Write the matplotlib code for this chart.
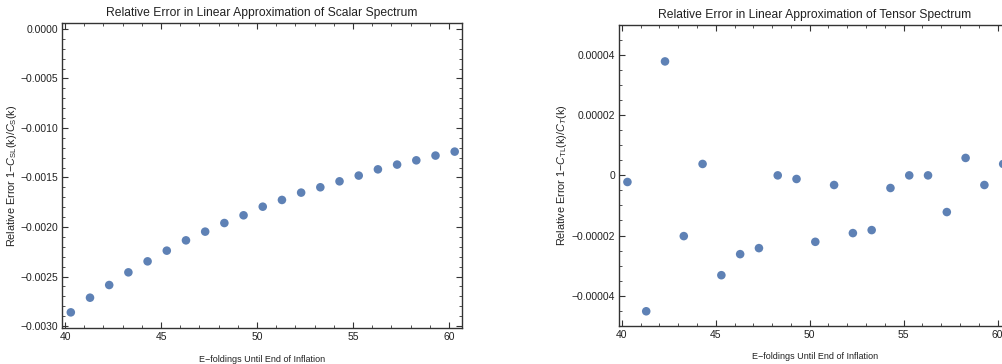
import matplotlib
matplotlib.use("Agg")
from matplotlib import pyplot as plt
from matplotlib.ticker import MultipleLocator, FuncFormatter

plt.rcParams['font.family'] = ['Liberation Sans', 'DejaVu Sans']
plt.rcParams['mathtext.fontset'] = 'custom'
plt.rcParams['mathtext.it'] = 'Liberation Sans:italic'
plt.rcParams['mathtext.rm'] = 'Liberation Sans'

# e-folds until end of inflation
efolds = [40.3, 41.3, 42.3, 43.3, 44.3, 45.3, 46.3, 47.3, 48.3, 49.3, 50.3,
          51.3, 52.3, 53.3, 54.3, 55.3, 56.3, 57.3, 58.3, 59.3, 60.3]

scalar_err = [-0.002862, -0.002714, -0.002586, -0.002458, -0.002347, -0.002239,
              -0.002135, -0.002047, -0.001960, -0.001882, -0.001795, -0.001727,
              -0.001653, -0.001599, -0.001539, -0.001481, -0.001418, -0.001370,
              -0.001327, -0.001279, -0.001239]

tensor_err = [-2.2e-6, -4.52e-5, 3.79e-5, -2.02e-5, 3.8e-6, -3.32e-5,
              -2.62e-5, -2.42e-5, 0.0, -1.2e-6, -2.21e-5, -3.2e-6,
              -1.92e-5, -1.82e-5, -4.2e-6, 0.0, 0.0, -1.22e-5,
              5.8e-6, -3.2e-6, 3.8e-6]

dot_color = '#5E81B5'
frame_color = '#333333'
text_color = '#222222'

fig = plt.figure(figsize=(10.03, 3.64), dpi=100)
ax1 = fig.add_axes([0.0618, 0.0989, 0.3988, 0.838])
ax2 = fig.add_axes([0.6175, 0.1052, 0.3898, 0.826])


def fmt_signed(ndig):
    def f(v, pos):
        if abs(v) < 1e-12:
            return '0' if ndig is None else '0.' + '0' * ndig
        s = ('%.' + str(ndig if ndig else 5) + 'f') % abs(v)
        return ('\u2212' if v < 0 else '') + s
    return FuncFormatter(f)


def style(ax):
    for sp in ax.spines.values():
        sp.set_color(frame_color)
        sp.set_linewidth(1.0)
    ax.tick_params(which='both', direction='in', top=True, right=True,
                   colors=frame_color, labelcolor=text_color, labelsize=7.5, pad=3)
    ax.tick_params(which='major', length=4, width=0.8)
    ax.tick_params(which='minor', length=2, width=0.6)
    ax.xaxis.set_major_locator(MultipleLocator(5))
    ax.xaxis.set_minor_locator(MultipleLocator(1))


# scalar spectrum
ax1.scatter(efolds, scalar_err, s=38, color=dot_color, edgecolors='none', zorder=3)
ax1.set_xlim(39.84, 60.68)
ax1.set_ylim(-0.00302, 0.00006)
style(ax1)
ax1.yaxis.set_major_locator(MultipleLocator(0.0005))
ax1.yaxis.set_minor_locator(MultipleLocator(0.0001))
ax1.yaxis.set_major_formatter(fmt_signed(4))
ax1.set_title('Relative Error in Linear Approximation of Scalar Spectrum',
              fontsize=8.7, color=text_color, pad=5)
ax1.set_xlabel('E\u2212foldings Until End of Inflation', fontsize=6.5, color=text_color, labelpad=9)
ax1.set_ylabel('Relative Error 1\u2212$C_{\\mathrm{SL}}$(k)/$C_{\\mathrm{S}}$(k)',
               fontsize=7.8, color=text_color)
ax1.yaxis.set_label_coords((19 - 62) / 400, 0.5)

# tensor spectrum
ax2.scatter(efolds, tensor_err, s=38, color=dot_color, edgecolors='none', zorder=3)
ax2.set_xlim(39.87, 60.68)
ax2.set_ylim(-0.00005, 0.00005)
style(ax2)
ax2.yaxis.set_major_locator(MultipleLocator(0.00002))
ax2.yaxis.set_minor_locator(MultipleLocator(0.000005))
ax2.yaxis.set_major_formatter(fmt_signed(None))
ax2.set_title('Relative Error in Linear Approximation of Tensor Spectrum',
              fontsize=8.7, color=text_color, pad=5)
ax2.set_xlabel('E\u2212foldings Until End of Inflation', fontsize=6.5, color=text_color, labelpad=9)
ax2.set_ylabel('Relative Error 1\u2212$C_{\\mathrm{TL}}$(k)/$C_{T}$(k)',
               fontsize=7.8, color=text_color)
ax2.yaxis.set_label_coords((569 - 619.3) / 391, 0.5)

fig.savefig('out.png', dpi=100)
